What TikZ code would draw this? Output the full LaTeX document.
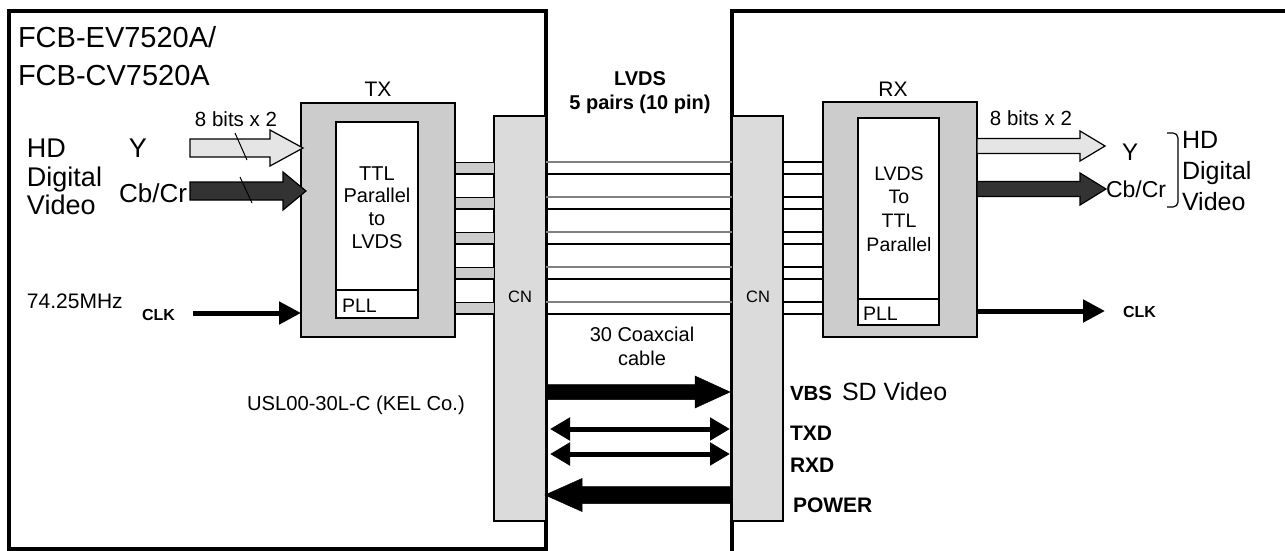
\documentclass[tikz,border=0pt]{standalone}
\usepackage{fontspec}
\setmainfont{Liberation Sans}
\usetikzlibrary{arrows.meta}
\newcommand\fsz[1]{\fontsize{#1}{#1}\selectfont}
\definecolor{boxgray}{gray}{0.80}
\definecolor{cngray}{gray}{0.86}
\definecolor{ylight}{gray}{0.90}
\definecolor{darkfill}{gray}{0.20}
% block arrow: style, x start, x tip, y, shaft half, head half, head length (negative for leftward)
\newcommand\barrow[7]{\filldraw[#1] (#2,{#4-#5}) -- ({#3-#7},{#4-#5}) -- ({#3-#7},{#4-#6}) -- (#3,#4) -- ({#3-#7},{#4+#6}) -- ({#3-#7},{#4+#5}) -- (#2,{#4+#5}) -- cycle;}
\begin{document}
\begin{tikzpicture}[x=1pt,y=-1pt,
  box/.style={draw, line width=1.6pt, inner sep=0, outer sep=0, anchor=north west},
  lbl/.style={inner sep=0, outer sep=0, anchor=base},
  lblw/.style={inner sep=0, outer sep=0, anchor=base west},
  thickarrow/.style={line width=5pt, -{Triangle[length=22pt,width=22pt]}},
  dblarrow/.style={line width=5pt, {Triangle[length=20pt,width=22pt]}-{Triangle[length=20pt,width=22pt]}}]
\useasboundingbox (0,0) rectangle (1285,551);

% outer boards
\draw[line width=3.5pt] (9,11) rectangle (546,549);
\draw[line width=3.5pt] (732,551) -- (732,11) -- (1285,11);

% connectors CN
\node[box, fill=cngray, line width=1.4pt, minimum width=52pt, minimum height=405pt] (cnl) at (494,116) {};
\node[box, fill=cngray, line width=1.4pt, minimum width=51pt, minimum height=405pt] (cnr) at (732,116) {};
\node[lbl, font=\fsz{16.5}] (cnltext) at (520,302) {CN};
\node[lbl, font=\fsz{16.5}] (cnrtext) at (758,302) {CN};

% TX / RX blocks
\node[box, fill=boxgray, minimum width=154pt, minimum height=234pt] (tx) at (301,103) {};
\node[box, fill=white, minimum width=82pt, minimum height=168pt] (txcore) at (336,122) {};
\node[box, fill=white, minimum width=82pt, minimum height=28pt] (txpll) at (336,290) {};
\node[box, fill=boxgray, minimum width=154pt, minimum height=235pt] (rx) at (823,102) {};
\node[box, fill=white, minimum width=81pt, minimum height=181pt] (rxcore) at (858,118) {};
\node[box, fill=white, minimum width=81pt, minimum height=26pt] (rxpll) at (858,299) {};

\node[lbl, font=\fsz{21}] (txlabel) at (378,96) {TX};
\node[lbl, font=\fsz{21}] (rxlabel) at (893,96) {RX};

\node[lbl, font=\fsz{20}] (tx1) at (377,180) {TTL};
\node[lbl, font=\fsz{20}] (tx2) at (377,202) {Parallel};
\node[lbl, font=\fsz{20}] (tx3) at (377,225) {to};
\node[lbl, font=\fsz{20}] (tx4) at (377,248) {LVDS};
\node[lblw, font=\fsz{19.5}] (txplltext) at (342,312) {PLL};

\node[lbl, font=\fsz{19.5}] (rx1) at (899,180) {LVDS};
\node[lbl, font=\fsz{19.5}] (rx2) at (899,203) {To};
\node[lbl, font=\fsz{19.5}] (rx3) at (899,227) {TTL};
\node[lbl, font=\fsz{19.5}] (rx4) at (899,251) {Parallel};
\node[lblw, font=\fsz{19.5}] (rxplltext) at (863,320) {PLL};

% LVDS pairs
\foreach \a in {162,197,232,267,302} {
  \pgfmathsetmacro\b{\a+12}
  \coordinate (pa) at (0,\a);
  \coordinate (pb) at (0,\b);
  \filldraw[fill=boxgray, draw=black, line width=1pt] (tx.east |- pa) rectangle (cnl.west |- pb);
  \draw[line width=2pt] (tx.east |- pb) -- (cnl.west |- pb);
  \draw[gray, line width=1.2pt] (cnl.east |- pa) -- (cnr.west |- pa);
  \draw[line width=2.2pt] (cnl.east |- pb) -- (cnr.west |- pb);
  \draw[line width=1.3pt] (cnr.east |- pa) -- (rx.west |- pa);
  \draw[line width=2.2pt] (cnr.east |- pb) -- (rx.west |- pb);
}

% titles
\node[lblw, font=\fsz{29}] (title1) at (18,48) {FCB-EV7520A/};
\node[lblw, font=\fsz{29}] (title2) at (18,85) {FCB-CV7520A};

% left video inputs
\node[lblw, font=\fsz{27}] (hd1) at (27,157) {HD};
\node[lblw, font=\fsz{27}] (hd2) at (27,186) {Digital};
\node[lblw, font=\fsz{27}] (hd3) at (27,214) {Video};
\node[lbl, font=\fsz{27}] (ylab) at (138,157) {Y};
\node[lbl, font=\fsz{26}] (cblab) at (153,202) {Cb/Cr};
\node[lbl, font=\fsz{20.5}] (bitsl) at (236,126) {8 bits x 2};
\barrow{fill=ylight, draw=black, line width=1.2pt}{190}{303}{148}{9}{18}{33}
\barrow{fill=darkfill, draw=black, line width=1.2pt}{190}{306}{191}{9}{19}{23}
\draw[line width=1pt] (235,133) -- (247,160);
\draw[line width=1pt] (240,177) -- (252,203);

% clock in
\node[lblw, font=\fsz{21}] (mhz) at (27,308) {74.25MHz};
\node[lblw, font=\fsz{16}\bfseries] (clkin) at (142,320) {CLK};
\coordinate (clkstart) at (193,313);
\draw[thickarrow] (clkstart) -- (tx.west |- clkstart);

% right outputs
\node[lbl, font=\fsz{20.5}] (bitsr) at (1031,125) {8 bits x 2};
\barrow{fill=ylight, draw=black, line width=1.2pt}{977}{1105}{146}{7.5}{15}{25}
\barrow{fill=darkfill, draw=black, line width=1.2pt}{977}{1106}{189}{7.5}{16}{26}
\node[lbl, font=\fsz{24}] (ylabr) at (1130,160) {Y};
\node[lblw, font=\fsz{23}] (cblabr) at (1106,197) {Cb/Cr};
\draw[line width=1.2pt, rounded corners=5pt] (1167,133) -- (1178,133) -- (1178,207) -- (1167,207);
\node[lblw, font=\fsz{25}] (hdr1) at (1182,148) {HD};
\node[lblw, font=\fsz{25}] (hdr2) at (1182,179) {Digital};
\node[lblw, font=\fsz{25}] (hdr3) at (1182,210) {Video};
\coordinate (clkend) at (1105,311);
\draw[thickarrow] (rx.east |- clkend) -- (clkend);
\node[lblw, font=\fsz{16}\bfseries] (clkout) at (1123,317) {CLK};

% cable texts
\node[lbl, font=\fsz{20}\bfseries] (lvds) at (640,85) {LVDS};
\node[lbl, font=\fsz{20}\bfseries] (pairs) at (640,110) {5 pairs (10 pin)};
\node[lbl, font=\fsz{20}] (coax1) at (642,341) {30 Coaxcial};
\node[lbl, font=\fsz{20}] (coax2) at (642,365) {cable};
\node[lblw, font=\fsz{20.2}] (usl) at (247,410) {USL00-30L-C (KEL Co.)};

% lower signals
\barrow{fill=black, draw=black, line width=0.5pt}{547}{730}{392}{7.5}{16}{35}
\coordinate (txdy) at (0,429);
\coordinate (rxdy) at (0,454);
\draw[dblarrow] ([xshift=4pt]cnl.east |- txdy) -- ([xshift=-2pt]cnr.west |- txdy);
\draw[dblarrow] ([xshift=4pt]cnl.east |- rxdy) -- ([xshift=-2pt]cnr.west |- rxdy);
\barrow{fill=black, draw=black, line width=0.5pt}{730}{545}{495}{8.5}{16.5}{-37}

\node[lblw, font=\fsz{20.5}\bfseries] (vbs) at (790,400) {VBS};
\node[lblw, font=\fsz{25}] (sdv) at (842,400) {SD Video};
\node[lblw, font=\fsz{21}\bfseries] (txd) at (790,440) {TXD};
\node[lblw, font=\fsz{21}\bfseries] (rxd) at (790,472) {RXD};
\node[lblw, font=\fsz{21}\bfseries] (power) at (793,512) {POWER};
\end{tikzpicture}
\end{document}
